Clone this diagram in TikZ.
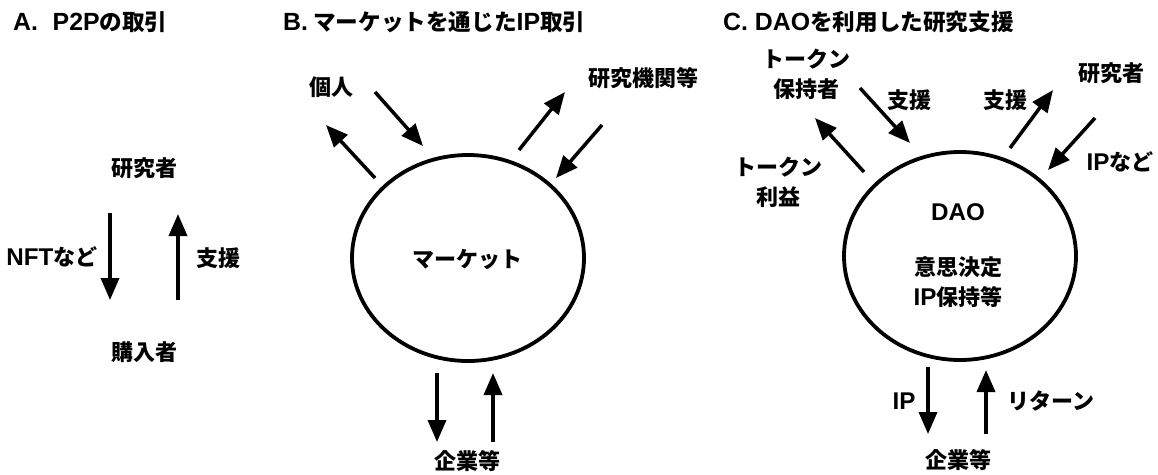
\documentclass[tikz,border=0pt]{standalone}
\usepackage{fontspec}
\setmainfont{Noto Sans CJK JP}
\newfontfamily\latf{Liberation Sans}[Scale=1.1]
\newcommand{\lt}[1]{{\latf\bfseries #1}}
\usetikzlibrary{arrows.meta,shapes.geometric}
\begin{document}
\begin{tikzpicture}[x=1pt,y=-1pt,
  lbl/.style={font=\fontsize{22}{30}\selectfont\bfseries, inner sep=0pt, align=center},
  ttl/.style={font=\fontsize{22.6}{26}\selectfont\bfseries, inner sep=0pt, anchor=west},
  flow/.style={line width=3.5pt, -{Triangle[length=22pt,width=18pt]}},
  ring/.style={draw, ellipse, line width=3.8pt, inner sep=0pt}]
\useasboundingbox (0,0) rectangle (1158,474);
\fill[white] (0,0) rectangle (1158,474);
% ---------- A ----------
\node[ttl] (tA) at (13,22) {\lt{A.}\hspace{0.65em}\lt{P2P}の取引};
\node[lbl] (resA) at (144,168) {研究者};
\node[lbl] (nft) at (52,257) {\lt{NFT}など};
\node[lbl] (shienA) at (218,258) {支援};
\node[lbl] (buyer) at (144,352) {購入者};
\coordinate (a1s) at (110,213); \coordinate (a1e) at (110,300);
\coordinate (a2s) at (178,300); \coordinate (a2e) at (178,214);
\draw[flow] (a1s) -- (a1e);
\draw[flow] (a2s) -- (a2e);
% ---------- B ----------
\node[ttl] (tB) at (283,22) {\lt{B.} マーケットを通じた\lt{IP}取引};
\node[ring, minimum width=232pt, minimum height=206pt] (mkt) at (468,258) {};
\node[lbl] (mktl) at (467,260) {マーケット};
\node[lbl] (kojin) at (331,87) {個人};
\node[lbl] (kikan) at (643,78) {研究機関等};
\node[lbl] (kigyoB) at (467,461) {企業等};
\coordinate (b1s) at (375,178); \coordinate (b1e) at (326,125);
\coordinate (b2s) at (375,92);  \coordinate (b2e) at (423,146);
\coordinate (b3s) at (519,150); \coordinate (b3e) at (565,92);
\coordinate (b4s) at (602,125); \coordinate (b4e) at (556,178);
\coordinate (b5s) at (437,373); \coordinate (b5e) at (437,442);
\coordinate (b6s) at (493,442); \coordinate (b6e) at (493,373);
\foreach \i in {1,...,6} \draw[flow] (b\i s) -- (b\i e);
% ---------- C ----------
\node[ttl] (tC) at (723,22) {\lt{C. DAO}を利用した研究支援};
\node[ring, minimum width=232pt, minimum height=208pt] (dao) at (960,256) {};
\node[lbl] (daol) at (958,212) {\lt{DAO}};
\node[lbl] (daot) at (958,282) {意思決定\\\lt{IP}保持等};
\node[lbl] (holder) at (806,74.5) {トークン\\保持者};
\node[lbl] (rieki) at (778,182.5) {トークン\\利益};
\node[lbl] (shienC1) at (909,100) {支援};
\node[lbl] (shienC2) at (1005,100) {支援};
\node[lbl] (resC) at (1111,73) {研究者};
\node[lbl] (ipnado) at (1120,162) {\lt{IP}など};
\node[lbl] (ip) at (904,401) {\lt{IP}};
\node[lbl] (ret) at (1051,401) {リターン};
\node[lbl] (kigyoC) at (958,460) {企業等};
\coordinate (c1s) at (860,88);   \coordinate (c1e) at (910,143);
\coordinate (c2s) at (864,172);  \coordinate (c2e) at (815,118);
\coordinate (c3s) at (1010,148); \coordinate (c3e) at (1053,90);
\coordinate (c4s) at (1095,118); \coordinate (c4e) at (1048,170);
\coordinate (c5s) at (928,367);  \coordinate (c5e) at (928,434);
\coordinate (c6s) at (986,434);  \coordinate (c6e) at (986,370);
\foreach \i in {1,...,6} \draw[flow] (c\i s) -- (c\i e);
\end{tikzpicture}
\end{document}
